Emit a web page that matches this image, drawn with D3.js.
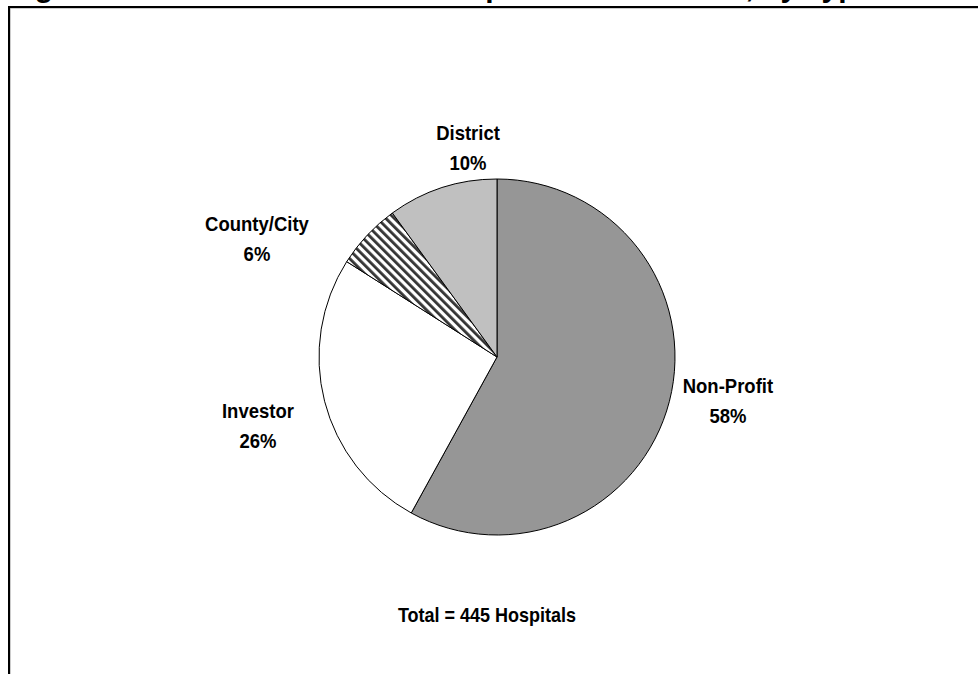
<!DOCTYPE html>
<html>
<head>
<meta charset="utf-8">
<script src="https://cdn.jsdelivr.net/npm/d3@7"></script>
<style>
  html, body { margin: 0; padding: 0; background: #fff; }
  svg { display: block; }
  text { font-family: Arial, "Liberation Sans", sans-serif; font-weight: bold; fill: #000; }
</style>
</head>
<body>
<svg id="chart" width="978" height="674"></svg>
<script>
// Hospital ownership shares (percent of all hospitals)
const categories = ["Non-Profit", "Investor", "County/City", "District"];
const shares = [58, 26, 6, 10];
const fills = ["#969696", "#ffffff", "url(#hatch)", "#c0c0c0"];
const titleText = "Figure 1: General Acute Care Hospitals in California, by Type";
const totalText = "Total = 445 Hospitals";

// label anchor (first baseline) as angle (deg, clockwise from top) and radius multiple
const labelPlacement = [
  { ang: 98.9, k: 1.313 },
  { ang: 255.7, k: 1.386 },
  { ang: 297.7, k: 1.523 },
  { ang: 352.4, k: 1.23 }
];

const svg = d3.select("#chart");
const W = 978, H = 674;
const tallText = 1.12; // labels are set in a slightly tall face

// diagonal stripe pattern for County/City
const defs = svg.append("defs");
const pat = defs.append("pattern")
  .attr("id", "hatch")
  .attr("patternUnits", "userSpaceOnUse")
  .attr("width", 6).attr("height", 6)
  .attr("patternTransform", "rotate(-45)");
pat.append("rect").attr("width", 6).attr("height", 6).attr("fill", "#ffffff");
pat.append("rect").attr("x", 0).attr("width", 2.8).attr("height", 6).attr("fill", "#333");

// title (sits partly above the frame)
svg.append("text")
  .attr("x", 8).attr("y", -3)
  .attr("font-size", 30)
  .text(titleText);

// chart frame
svg.append("path")
  .attr("d", `M9,${H + 5} L9,7 L${W + 5},7`)
  .attr("fill", "none").attr("stroke", "#9a9a9a").attr("stroke-width", 1)
  .attr("transform", "translate(1,1)");
svg.append("path")
  .attr("d", `M9,${H + 5} L9,7 L${W + 5},7`)
  .attr("fill", "none").attr("stroke", "#000").attr("stroke-width", 2);

const cx = 497, cy = 357, r = 178;
const g = svg.append("g").attr("transform", `translate(${cx},${cy})`);

const pie = d3.pie().sort(null).value(d => d)(shares);
const arc = d3.arc().innerRadius(0).outerRadius(r);

g.selectAll("path.slice")
  .data(pie)
  .join("path")
  .attr("class", "slice")
  .attr("d", arc)
  .attr("fill", (d, i) => fills[i])
  .attr("stroke", "#000")
  .attr("stroke-width", 1)
  .attr("stroke-linejoin", "round");

// category and percentage labels
pie.forEach((d, i) => {
  const p = labelPlacement[i];
  const a = p.ang * Math.PI / 180;
  const x = Math.sin(a) * r * p.k;
  const y = -Math.cos(a) * r * p.k;
  const t = g.append("text")
    .attr("text-anchor", "middle")
    .attr("font-size", 18.5)
    .attr("transform", `translate(${x},${y}) scale(1,${tallText})`);
  t.append("tspan").attr("x", 0).attr("y", 0).text(categories[i]);
  t.append("tspan").attr("x", 0).attr("dy", 30 / tallText).text(d3.format(".0f")(shares[i]) + "%");
});

svg.append("text")
  .attr("text-anchor", "middle")
  .attr("font-size", 18)
  .attr("transform", `translate(487,622) scale(1,${tallText + 0.04})`)
  .text(totalText);
</script>
</body>
</html>
